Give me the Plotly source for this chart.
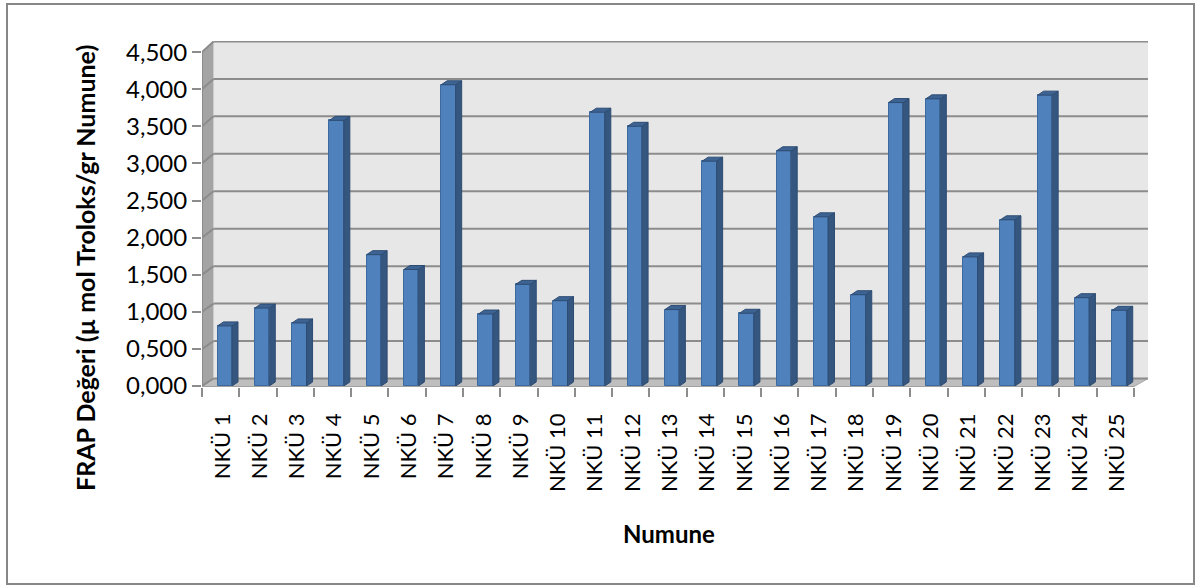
import plotly.graph_objects as go

# Sample names and FRAP values (µmol Trolox / g sample)
samples = ["NKÜ 1", "NKÜ 2", "NKÜ 3", "NKÜ 4", "NKÜ 5", "NKÜ 6", "NKÜ 7", "NKÜ 8",
           "NKÜ 9", "NKÜ 10", "NKÜ 11", "NKÜ 12", "NKÜ 13", "NKÜ 14", "NKÜ 15",
           "NKÜ 16", "NKÜ 17", "NKÜ 18", "NKÜ 19", "NKÜ 20", "NKÜ 21", "NKÜ 22",
           "NKÜ 23", "NKÜ 24", "NKÜ 25"]
frap = [0.81, 1.05, 0.85, 3.58, 1.77, 1.57, 4.06, 0.97, 1.37, 1.15, 3.69, 3.50,
        1.03, 3.03, 0.98, 3.17, 2.28, 1.23, 3.82, 3.87, 1.74, 2.24, 3.92, 1.19, 1.02]
y_ticks = [0.0, 0.5, 1.0, 1.5, 2.0, 2.5, 3.0, 3.5, 4.0, 4.5]
y_tick_text = ["0,000", "0,500", "1,000", "1,500", "2,000", "2,500",
               "3,000", "3,500", "4,000", "4,500"]

FONT = "Lato"
W, H = 1202, 586
ML, MR, MT, MB = 202, 54, 41, 199
n = len(samples)

# axis ranges: x in category units, y in value units on the front plane
px_per_cat = (1134 - ML) / n
X1 = (W - ML - MR) / px_per_cat
px_per_val = 74.2
Y0 = -1 / px_per_val
Y1 = (386 - MT) / px_per_val

# pseudo-3D depth: back wall offset to the right and up
bx0 = (213.5 - ML) / px_per_cat


def back_y(v):
    return (386 - 378.5 + 74.9 * v) / px_per_val


# bar geometry in axis units
bar_left = 15.5 / px_per_cat
bar_w = 14.5 / px_per_cat
depth_dx = 6 / px_per_cat
depth_dy = 4 / px_per_val

fig = go.Figure()

# front faces
fig.add_trace(go.Bar(
    x=[i + bar_left + bar_w / 2 for i in range(n)], y=frap, width=bar_w,
    marker=dict(color="#4F81BD", line=dict(color="#3D6A9E", width=1)),
    hoverinfo="skip", showlegend=False))

# side faces and top caps
side_x, side_y, cap_x, cap_y = [], [], [], []
for i, v in enumerate(frap):
    xl = i + bar_left
    xr = xl + bar_w
    side_x += [xr, xr, xr + depth_dx, xr + depth_dx, xr, None]
    side_y += [0, v, v + depth_dy, depth_dy, 0, None]
    cap_x += [xl, xr, xr + depth_dx, xl + depth_dx, xl, None]
    cap_y += [v, v, v + depth_dy, v + depth_dy, v, None]

fig.add_trace(go.Scatter(x=side_x, y=side_y, mode="lines", fill="toself",
                         fillcolor="#34567F", line=dict(color="#2E4C72", width=1),
                         hoverinfo="skip", showlegend=False))
fig.add_trace(go.Scatter(x=cap_x, y=cap_y, mode="lines", fill="toself",
                         fillcolor="#3D6393", line=dict(color="#2E4C72", width=1),
                         hoverinfo="skip", showlegend=False))
# carrier for the boundary tick axis
fig.add_trace(go.Scatter(x=[None], y=[None], xaxis="x2", mode="lines",
                         hoverinfo="skip", showlegend=False))


def poly(pts):
    return "M " + " L ".join(f"{x},{y}" for x, y in pts) + " Z"


shapes = []
# back wall
shapes.append(dict(type="path", layer="below", xref="x", yref="y",
                   path=poly([(bx0, back_y(0)), (X1, back_y(0)), (X1, back_y(4.5)), (bx0, back_y(4.5))]),
                   fillcolor="#E7E7E7", line=dict(width=0)))
# left side wall
shapes.append(dict(type="path", layer="below", xref="x", yref="y",
                   path=poly([(0, 0), (0, 4.5), (bx0, back_y(4.5)), (bx0, back_y(0))]),
                   fillcolor="#A4A4A4", line=dict(width=0)))
# floor
shapes.append(dict(type="path", layer="below", xref="x", yref="y",
                   path=poly([(0, -0.008), (n, -0.008), (X1, back_y(0)), (bx0, back_y(0))]),
                   fillcolor="#BEBEBE", line=dict(color="#A6A6A6", width=1)))
# gridlines on the back wall and the side wall
for v in y_ticks:
    shapes.append(dict(type="line", layer="below", xref="x", yref="y",
                       x0=bx0, x1=X1, y0=back_y(v), y1=back_y(v),
                       line=dict(color="#8C8C8C", width=2)))
    shapes.append(dict(type="line", layer="below", xref="x", yref="y",
                       x0=0, x1=bx0, y0=v, y1=back_y(v),
                       line=dict(color="#8C8C8C", width=2)))
# front edge of the side wall (value axis line)
shapes.append(dict(type="line", layer="below", xref="x", yref="y",
                   x0=0, x1=0, y0=0, y1=4.5, line=dict(color="#8C8C8C", width=2)))
# front edge of the floor (category axis line)
shapes.append(dict(type="line", layer="above", xref="x", yref="y",
                   x0=0, x1=n, y0=-0.008, y1=-0.008, line=dict(color="#A0A0A0", width=1)))

# chart border
pw, ph = W - ML - MR, H - MT - MB
shapes.append(dict(type="rect", xref="paper", yref="paper",
                   x0=(7 - ML) / pw, x1=(1194 - ML) / pw,
                   y0=(H - MB - 584) / ph, y1=(H - MB - 4) / ph,
                   line=dict(color="#878787", width=2), fillcolor="rgba(0,0,0,0)"))

fig.update_layout(
    width=W, height=H,
    margin=dict(l=ML, r=MR, t=MT, b=MB),
    paper_bgcolor="white", plot_bgcolor="white",
    font=dict(family=FONT, color="black"),
    shapes=shapes,
    xaxis=dict(range=[0, X1], tickvals=[i + 0.55 for i in range(n)], ticktext=samples,
               tickangle=-90, ticks="", showline=False, showgrid=False, zeroline=False,
               tickfont=dict(family=FONT, size=22, color="black"), ticklabelstandoff=21),
    xaxis2=dict(range=[0, X1], overlaying="x", anchor="y", side="bottom",
                tickvals=list(range(n + 1)), ticks="outside", ticklen=9,
                tickcolor="#8C8C8C", tickwidth=2, showticklabels=False,
                showline=False, showgrid=False, zeroline=False),
    yaxis=dict(range=[Y0, Y1], tickvals=y_ticks, ticktext=y_tick_text,
               ticks="outside", ticklen=9, tickcolor="#8C8C8C", tickwidth=2,
               showline=False, showgrid=False, zeroline=False,
               tickfont=dict(family=FONT, size=24, color="black")),
    annotations=[
        dict(text="<b>FRAP Değeri (µ mol Troloks/gr Numune)</b>", textangle=-90,
             xref="paper", yref="paper", x=(85 - ML) / pw, y=(H - MB - 268) / ph,
             xanchor="center", yanchor="middle", showarrow=False,
             font=dict(family=FONT, size=25, color="black")),
        dict(text="<b>Numune</b>", xref="paper", yref="paper",
             x=(669 - ML) / pw, y=(H - MB - 533) / ph,
             xanchor="center", yanchor="middle", showarrow=False,
             font=dict(family=FONT, size=24, color="black")),
    ],
    bargap=0,
)

fig.write_html("out.html")
